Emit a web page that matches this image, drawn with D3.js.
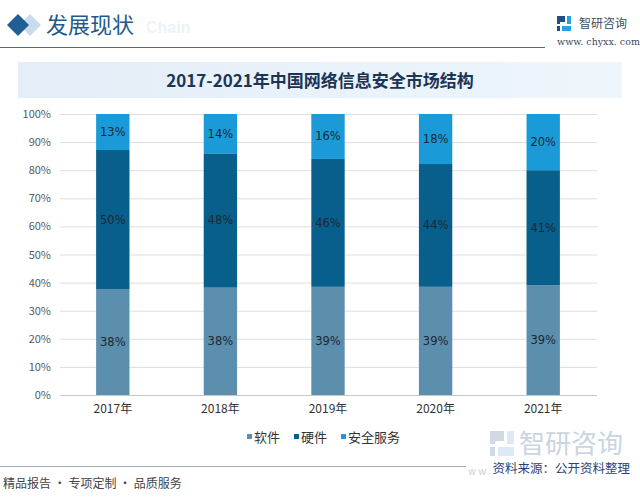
<!DOCTYPE html>
<html><head><meta charset="utf-8">
<script src="https://cdn.jsdelivr.net/npm/d3@7/dist/d3.min.js"></script>
<style>
html,body{margin:0;padding:0;background:#fff;}
svg{display:block;font-family:"Noto Sans CJK SC","Noto Sans",sans-serif;}
</style></head>
<body>
<svg id="c" width="640" height="499"></svg>
<script>
const years = ["2017年","2018年","2019年","2020年","2021年"];
const seriesNames = ["软件","硬件","安全服务"];
const software = [37.7, 38.2, 38.5, 38.5, 39.1];
const hardware = [49.5, 47.8, 45.5, 43.7, 40.9];
const security = [12.8, 14.0, 16.0, 17.8, 20.0];
const yTicks = [0,10,20,30,40,50,60,70,80,90,100];
const colors = ["#5b8fad","#085f8b","#1a9bd7"];

const svg = d3.select("#c");
const defs = svg.append("defs");
const g1 = defs.append("linearGradient").attr("id","tb").attr("x1","0").attr("x2","1");
g1.append("stop").attr("offset","0").attr("stop-color","#e4eef8");
g1.append("stop").attr("offset","0.5").attr("stop-color","#e9f2fa");
g1.append("stop").attr("offset","1").attr("stop-color","#eef5fb");

// header
svg.append("path").attr("d","M30,14 L41,25 L30,36 L19,25Z").attr("fill","#c9dcec");
svg.append("path").attr("d","M18,14 L29,25 L18,36 L7,25Z").attr("fill","#1f5f94");
svg.append("text").attr("x",46).attr("y",33).attr("font-size",22).attr("fill","#1f5a8e").text("发展现状");
svg.append("text").attr("x",146).attr("y",33).attr("font-size",16).attr("font-weight","bold").attr("fill","#eef3f8").attr("font-family","Arial, Liberation Sans").text("Chain");
svg.append("line").attr("x1",0).attr("x2",545).attr("y1",47.5).attr("y2",47.5).attr("stroke","#46708f").attr("stroke-width",1.2);
// logo
const lg = svg.append("g").attr("transform","translate(557,16)");
lg.append("path").attr("d","M0,0 h8 v6 h-5 v2 h-3z").attr("fill","#1e4f8a");
lg.append("path").attr("d","M0,10 h3 v5 h-3z").attr("fill","#1e4f8a");
lg.append("path").attr("d","M10,0 h4 v8 h-4z M5,10 h9 v5 h-9z").attr("fill","#29a3de");
svg.append("text").attr("x",579).attr("y",28).attr("font-size",12).attr("fill","#3a4f66").text("智研咨询");
svg.append("text").attr("x",557).attr("y",45).attr("font-size",9.5).attr("fill","#3a4a5a").attr("font-family","DejaVu Serif, Liberation Serif").text("www. chyxx. com");

// title banner
svg.append("rect").attr("x",18).attr("y",62).attr("width",604).attr("height",36).attr("fill","url(#tb)");
svg.append("text").attr("x",320).attr("y",87).attr("text-anchor","middle").attr("font-size",17).attr("font-weight","bold").attr("fill","#1b3556").attr("font-family","Noto Sans CJK SC").text("2017-2021年中国网络信息安全市场结构");

// chart
const x = d3.scaleBand().domain(years).range([59,597]).paddingInner(0.69).paddingOuter(0.345);
const y = d3.scaleLinear().domain([0,100]).range([395,114]);

const grid = svg.append("g");
grid.selectAll("line").data(yTicks).join("line")
  .attr("x1",60).attr("x2",597).attr("y1",d=>y(d)+0.5).attr("y2",d=>y(d)+0.5)
  .attr("stroke",d=>d===0?"#c8c8c8":"#dedede").attr("stroke-width",1);

const yAxis = svg.append("g").attr("transform","translate(51,0)")
  .call(d3.axisLeft(y).tickValues(yTicks).tickFormat(d=>d+"%").tickSize(0).tickPadding(0));
yAxis.select(".domain").remove();
yAxis.selectAll("text").attr("font-size",11).attr("fill","#595959").attr("font-family","Noto Sans CJK SC");

const xAxis = svg.append("g").attr("transform","translate(0,400)")
  .call(d3.axisBottom(x).tickSize(0).tickPadding(4));
xAxis.select(".domain").remove();
xAxis.selectAll("text").attr("font-size",12).attr("fill","#333").attr("font-family","Noto Sans CJK SC");

const rows = years.map((yr,i)=>({year:yr, "软件":software[i], "硬件":hardware[i], "安全服务":security[i]}));
const stack = d3.stack().keys(seriesNames)(rows);

const layers = svg.append("g").selectAll("g").data(stack).join("g").attr("fill",(d,i)=>colors[i]);
layers.selectAll("rect").data(d=>d).join("rect")
  .attr("x",d=>x(d.data.year)).attr("width",x.bandwidth())
  .attr("y",d=>y(d[1])).attr("height",d=>y(d[0])-y(d[1]));

const labels = svg.append("g");
stack.forEach(s=>{
  labels.selectAll(null).data(s).join("text")
    .attr("x",d=>x(d.data.year)+x.bandwidth()/2)
    .attr("y",d=>(y(d[0])+y(d[1]))/2+4)
    .attr("text-anchor","middle").attr("font-size",11.5).attr("fill","#1d2833")
    .attr("font-family","DejaVu Sans, Noto Sans")
    .text(d=>Math.round(d[1]-d[0])+"%");
});

// legend
const legX = [247,294,341];
const leg = svg.append("g");
seriesNames.forEach((n,i)=>{
  leg.append("rect").attr("x",legX[i]).attr("y",434).attr("width",5).attr("height",5).attr("fill",colors[i]);
  leg.append("text").attr("x",legX[i]+7).attr("y",441.5).attr("font-size",13).attr("fill","#333").text(n);
});

// footer
svg.append("line").attr("x1",0).attr("x2",466).attr("y1",466.5).attr("y2",466.5).attr("stroke","#9fb2c2").attr("stroke-width",1.2);
const wl = svg.append("g").attr("transform","translate(490,431)").attr("opacity",0.35);
wl.append("path").attr("d","M0,0 h14 v10 h-9 v3 h-5z M0,16 h5 v9 h-5z").attr("fill","#7d96b3");
wl.append("path").attr("d","M17,0 h7 v13 h-7z M8,16 h16 v9 h-16z").attr("fill","#9fc3dd");
svg.append("text").attr("x",519).attr("y",453).attr("font-size",26).attr("fill","#b8c7d6").attr("opacity",0.75).text("智研咨询");
svg.append("text").attr("x",468).attr("y",475).attr("font-size",10).attr("fill","#c8d2dc").text("w w");
svg.append("text").attr("x",630).attr("y",473).attr("text-anchor","end").attr("font-size",12.5).attr("fill","#2a3f7a").text("资料来源：公开资料整理");
svg.append("text").attr("x",3).attr("y",488).attr("font-size",12).attr("fill","#444").text("精品报告 · 专项定制 · 品质服务");
</script>
</body></html>
